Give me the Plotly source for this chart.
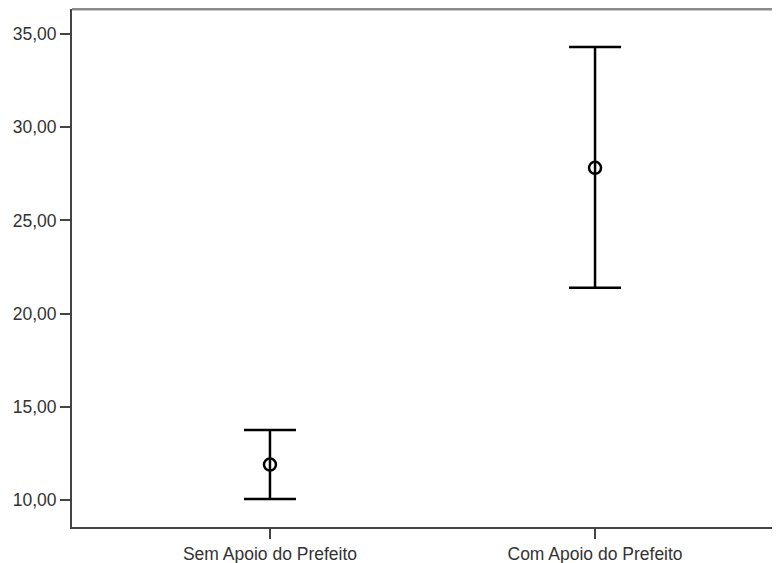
import plotly.graph_objects as go

categories = ["Sem Apoio do Prefeito", "Com Apoio do Prefeito"]
means = [11.90, 27.82]
upper = [13.76, 34.30]
lower = [10.05, 21.38]
ytick_vals = [10, 15, 20, 25, 30, 35]

xpos = list(range(len(categories)))
err_plus = [u - m for u, m in zip(upper, means)]
err_minus = [m - l for m, l in zip(means, lower)]

fig = go.Figure()
fig.add_trace(go.Scatter(
    x=xpos, y=means, mode="markers",
    marker=dict(symbol="circle-open", size=12, color="black", line=dict(width=2.5, color="black")),
    error_y=dict(type="data", symmetric=False, array=err_plus, arrayminus=err_minus,
                 color="black", thickness=2.5, width=26),
    showlegend=False, hoverinfo="skip",
))

font = dict(family="Liberation Sans, Arial, sans-serif", size=17.5, color="#333333")
fig.update_layout(
    width=772, height=555,
    margin=dict(l=64, r=0, t=1, b=36),
    paper_bgcolor="white", plot_bgcolor="white",
    separators=",.",
    font=font,
    xaxis=dict(range=[-0.609, 1.569], tickvals=xpos, ticktext=categories,
               showgrid=False, zeroline=False, showline=True, linecolor="#444444", linewidth=2,
               ticks="outside", ticklen=10, tickwidth=2, tickcolor="#444444", tickfont=font,
               automargin=False),
    yaxis=dict(range=[8.55, 36.34], tickvals=ytick_vals, tickformat=".2f",
               showgrid=False, zeroline=False, showline=True, linecolor="#444444", linewidth=2,
               ticks="outside", ticklen=10, tickwidth=2, tickcolor="#444444", tickfont=font,
               automargin=False),
)
fig.add_shape(type="line", xref="paper", yref="paper", x0=0, x1=1, y0=1, y1=1,
              line=dict(color="#8c8c8c", width=3))
fig.write_html("out.html")
